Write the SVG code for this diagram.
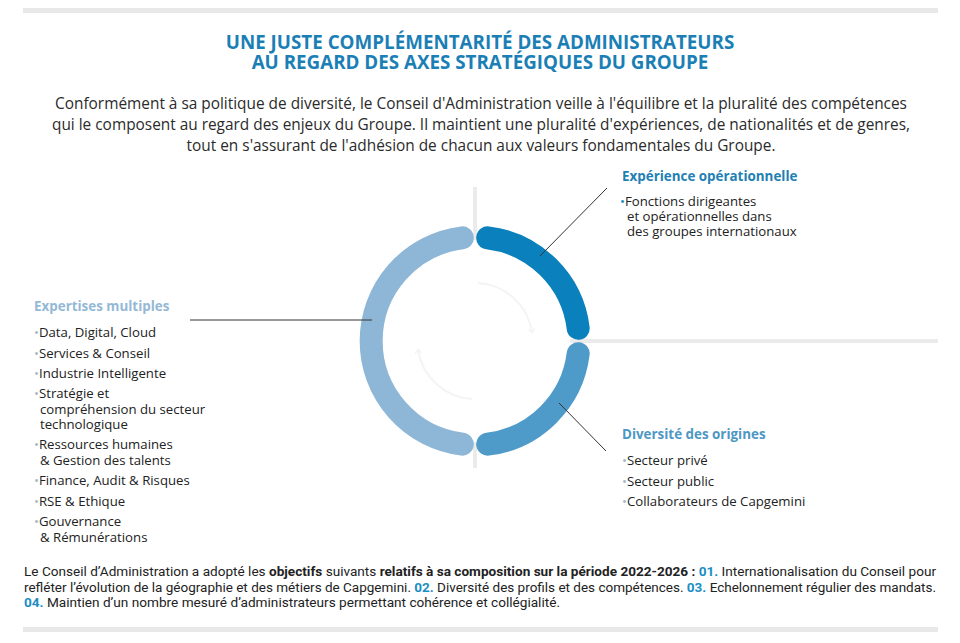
<svg xmlns="http://www.w3.org/2000/svg" width="960" height="643" viewBox="0 0 960 643">
<style>
.title{font-family:"Open Sans","Noto Sans",sans-serif;font-weight:700;font-size:18.8px;fill:#1b7fb6;text-anchor:middle}
.para{font-family:"Open Sans","Noto Sans",sans-serif;font-size:15.4px;fill:#2b2b2b;text-anchor:middle}
.head{font-family:"Open Sans","Noto Sans",sans-serif;font-weight:700;font-size:13.4px}
.item{font-family:"Open Sans","Noto Sans",sans-serif;font-size:13.2px;fill:#222}
.foot{font-family:Roboto,"Liberation Sans",sans-serif;font-size:12px;fill:#222}
.b{font-weight:700}
.n{font-weight:700;fill:#1b8ec4}
.dg{fill:#a8b8c4}
.db{fill:#1b8ec4}
.bar{fill:#e8e8e8}
.guide{stroke:#ebebeb;stroke-width:4;fill:none}
.seg{fill:none;stroke-width:23;stroke-linecap:round}
.lead{stroke:#333;stroke-width:1;fill:none}
.faint{stroke:#f4f4f4;stroke-width:2;fill:none}
</style>
<defs>
<marker id="fa" viewBox="0 0 10 10" refX="5" refY="5" markerWidth="8" markerHeight="8" orient="auto" markerUnits="userSpaceOnUse">
<path d="M1,1 L6,5 L1,9" fill="none" stroke="#f2f2f2" stroke-width="1.5"/>
</marker>
</defs>
<rect width="960" height="643" fill="#ffffff"/>
<rect class="bar" x="23" y="8" width="915" height="5"/>
<rect class="bar" x="23" y="627" width="915" height="5"/>

<g id="title">
<text class="title" x="480" y="49">UNE JUSTE COMPLÉMENTARITÉ DES ADMINISTRATEURS</text>
<text class="title" x="480" y="69">AU REGARD DES AXES STRATÉGIQUES DU GROUPE</text>
</g>
<g id="intro">
<text class="para" x="481" y="109">Conformément à sa politique de diversité, le Conseil d'Administration veille à l'équilibre et la pluralité des compétences</text>
<text class="para" x="481" y="130">qui le composent au regard des enjeux du Groupe. Il maintient une pluralité d'expériences, de nationalités et de genres,</text>
<text class="para" x="481" y="151">tout en s'assurant de l'adhésion de chacun aux valeurs fondamentales du Groupe.</text>
</g>

<g id="guides">
<line class="guide" x1="475" y1="187" x2="475" y2="240"/>
<line class="guide" x1="475" y1="442" x2="475" y2="468"/>
<line class="guide" x1="570" y1="341" x2="938" y2="341"/>
</g>

<g id="ring">
<path class="faint" d="M478,283 A58,58 0 0 1 532,332" marker-end="url(#fa)"/>
<path class="faint" d="M472,399 A58,58 0 0 1 418,350" marker-end="url(#fa)"/>
<g id="seg-experience"><path class="seg" stroke="#0a80bd" d="M487.7,237.8 A104,104 0 0 1 578.2,328.3"/></g>
<g id="seg-diversite"><path class="seg" stroke="#4e9bc9" d="M578.2,353.7 A104,104 0 0 1 487.7,444.2"/></g>
<g id="seg-expertises"><path class="seg" stroke="#8eb7d7" d="M462.3,444.2 A104,104 0 0 1 462.3,237.8"/></g>
</g>

<g id="connectors">
<line class="lead" x1="540" y1="256" x2="607" y2="188"/>
<line class="lead" x1="559" y1="403" x2="606" y2="451"/>
<line class="lead" x1="190" y1="320" x2="372" y2="320"/>
</g>

<g id="experience">
<text class="head" x="622" y="181" fill="#1f80b4">Expérience opérationnelle</text>
<text class="item" x="620" y="206"><tspan class="db">•</tspan>Fonctions dirigeantes</text>
<text class="item" x="627" y="221">et opérationnelles dans</text>
<text class="item" x="627" y="236">des groupes internationaux</text>
</g>

<g id="diversite">
<text class="head" x="622" y="439" fill="#4e97c4">Diversité des origines</text>
<text class="item" x="622" y="465"><tspan class="dg">•</tspan>Secteur privé</text>
<text class="item" x="622" y="486"><tspan class="dg">•</tspan>Secteur public</text>
<text class="item" x="622" y="506"><tspan class="dg">•</tspan>Collaborateurs de Capgemini</text>
</g>

<g id="expertises">
<text class="head" x="34" y="311" fill="#94b9d6">Expertises multiples</text>
<text class="item" x="34" y="337"><tspan class="dg">•</tspan>Data, Digital, Cloud</text>
<text class="item" x="34" y="358"><tspan class="dg">•</tspan>Services &amp; Conseil</text>
<text class="item" x="34" y="378"><tspan class="dg">•</tspan>Industrie Intelligente</text>
<text class="item" x="34" y="398"><tspan class="dg">•</tspan>Stratégie et</text>
<text class="item" x="40" y="414">compréhension du secteur</text>
<text class="item" x="40" y="429">technologique</text>
<text class="item" x="34" y="449"><tspan class="dg">•</tspan>Ressources humaines</text>
<text class="item" x="40" y="465">&amp; Gestion des talents</text>
<text class="item" x="34" y="485"><tspan class="dg">•</tspan>Finance, Audit &amp; Risques</text>
<text class="item" x="34" y="506"><tspan class="dg">•</tspan>RSE &amp; Ethique</text>
<text class="item" x="34" y="526"><tspan class="dg">•</tspan>Gouvernance</text>
<text class="item" x="40" y="542">&amp; Rémunérations</text>
</g>

<g id="footer">
<text class="foot" x="24" y="576" textLength="912" lengthAdjust="spacingAndGlyphs">Le Conseil d’Administration a adopté les <tspan class="b">objectifs</tspan> suivants <tspan class="b">relatifs à sa composition sur la période 2022-2026 :</tspan> <tspan class="n">01.</tspan> Internationalisation du Conseil pour</text>
<text class="foot" x="24" y="592" textLength="912" lengthAdjust="spacingAndGlyphs">refléter l’évolution de la géographie et des métiers de Capgemini. <tspan class="n">02.</tspan> Diversité des profils et des compétences. <tspan class="n">03.</tspan> Echelonnement régulier des mandats.</text>
<text class="foot" x="24" y="607" textLength="536" lengthAdjust="spacingAndGlyphs"><tspan class="n">04.</tspan> Maintien d’un nombre mesuré d’administrateurs permettant cohérence et collégialité.</text>
</g>
</svg>
